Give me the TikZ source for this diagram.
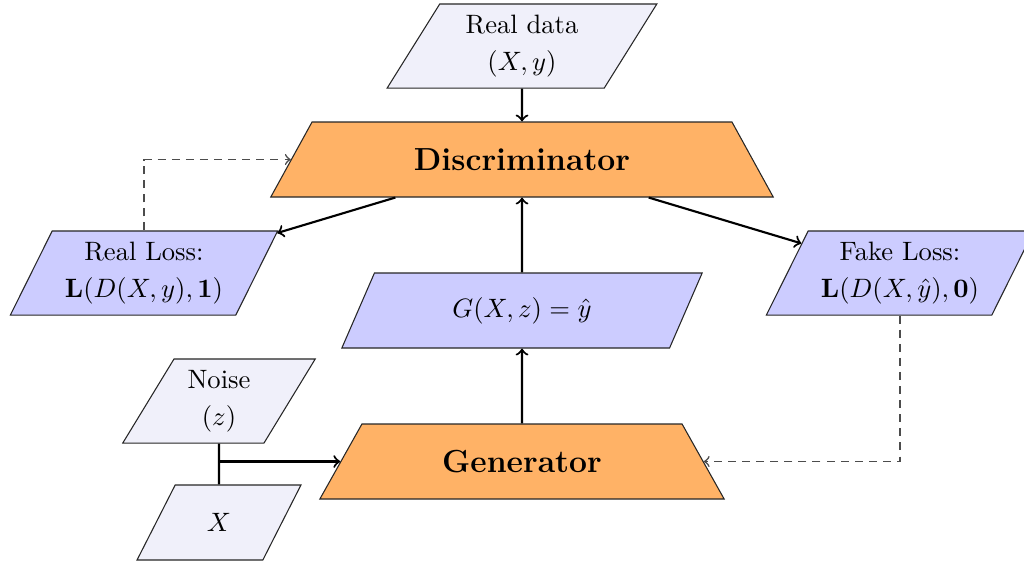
\documentclass[tikz,border=0pt]{standalone}
\usetikzlibrary{shapes.geometric}
\definecolor{inbox}{RGB}{240,240,250}
\definecolor{outbox}{RGB}{204,204,255}
\definecolor{netbox}{RGB}{255,178,102}
\begin{document}
\begin{tikzpicture}[x=0.376pt,y=-0.376pt,
  para/.style={trapezium, trapezium left angle=60, trapezium right angle=120,
    trapezium stretches=true, draw=black!85, align=center, inner sep=0pt},
  dataio/.style={para, fill=inbox},
  lossio/.style={para, fill=outbox},
  net/.style={trapezium, trapezium left angle=60, trapezium right angle=60,
    trapezium stretches=true, draw=black!85, fill=netbox,
    font=\large\bfseries, minimum height=28.2pt},
  arr/.style={->, thick},
  back/.style={->, semithick, black!70, dash pattern=on 3pt off 2.3pt},
]
\useasboundingbox (0,0) rectangle (1024,564);

% inputs
\node[dataio, minimum width=101.5pt, minimum height=31.6pt] (real) at (522,46)
  {Real data\\[2pt]$(X,y)$};
\node[dataio, minimum width=72.6pt, minimum height=31.6pt] (noise) at (219,401)
  {Noise\\[2pt]$(z)$};
\node[dataio, minimum width=61.7pt, minimum height=28.2pt] (xin) at (219,522.5)
  {$X$};

% networks
\node[net, minimum width=189.1pt] (disc) at (522,159.5) {Discriminator};
\node[net, minimum width=153pt] (gen) at (522,461.5) {Generator};

% outputs and losses
\node[lossio, minimum width=136.1pt, minimum height=28.2pt] (fake) at (522,310.5)
  {$G(X,z)=\hat{y}$};
\node[lossio, minimum width=101.1pt, minimum height=31.6pt] (rloss) at (144,273)
  {Real Loss:\\[2pt]$\mathbf{L}(D(X,y),\mathbf{1})$};
\node[lossio, minimum width=101.1pt, minimum height=31.6pt] (floss) at (900,273)
  {Fake Loss:\\[2pt]$\mathbf{L}(D(X,\hat{y}),\mathbf{0})$};

% forward flow
\draw[arr] (real) -- (disc);
\draw[arr] (disc) -- (rloss);
\draw[arr] (disc) -- (floss);
\draw[arr] (fake) -- (disc);
\draw[arr] (gen) -- (fake);
\draw[thick] (noise) -- (xin);
\coordinate (join) at (noise.south |- gen.west);
\draw[arr] (join) -- (gen.west);

% loss feedback
\draw[back] (rloss.north) |- (disc.west);
\draw[back] (floss.south) |- (gen.east);
\end{tikzpicture}
\end{document}
